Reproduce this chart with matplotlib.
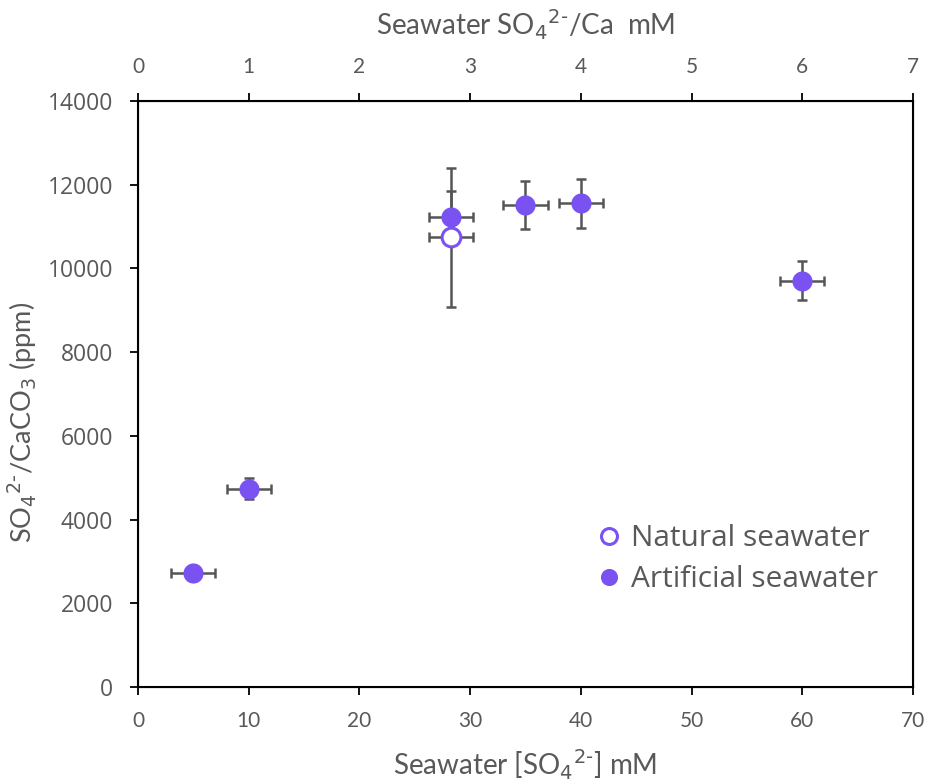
import numpy as np
import matplotlib.pyplot as plt

# data
art_x = [5, 10, 28.3, 35, 40, 60]
art_y = [2730, 4740, 11230, 11515, 11555, 9710]
art_xerr = [2, 2, 2, 2, 2, 2]
art_yerr = [80, 250, 620, 570, 585, 475]

nat_x = [28.3]
nat_y = [10750]
nat_xerr = [2]
nat_yerr = [1660]

PURPLE = '#7b52f2'
ERR = '#555555'
GREY = '#595959'

fig = plt.figure(figsize=(9.29, 7.83), dpi=100)
ax = fig.add_axes([0.1485, 0.1226, 0.8343, 0.7484])

ax.errorbar(nat_x, nat_y, xerr=nat_xerr, yerr=nat_yerr, fmt='none',
            ecolor=ERR, elinewidth=1.8, capsize=3.5, capthick=1.8, zorder=2)
ax.errorbar(art_x, art_y, xerr=art_xerr, yerr=art_yerr, fmt='none',
            ecolor=ERR, elinewidth=1.8, capsize=3.5, capthick=1.8, zorder=2)
ax.plot(nat_x, nat_y, 'o', ms=13.5, mfc='white', mec=PURPLE, mew=2.2,
        zorder=3, label='Natural seawater')
ax.plot(art_x, art_y, 'o', ms=14.5, mfc=PURPLE, mec=PURPLE, mew=0,
        zorder=4, label='Artificial seawater')

ax.set_xlim(0, 70)
ax.set_ylim(0, 14000)
ax.set_xticks(range(0, 71, 10))
ax.set_yticks(range(0, 14001, 2000))
for s in ax.spines.values():
    s.set_linewidth(1.5)
    s.set_color('black')
ax.tick_params(axis='both', direction='out', length=6, width=1.3, colors='black',
               labelcolor=GREY)
ax.tick_params(axis='x', labelsize=15, pad=11)
ax.tick_params(axis='y', labelsize=16.5, pad=12)
for t in ax.get_xticklabels():
    t.set_fontfamily('Lato')
for t in ax.get_yticklabels():
    t.set_fontfamily('Open Sans')

ax.set_xlabel(r'Seawater [SO$_4$$^{2\text{-}}$] mM', fontsize=20, color=GREY,
              family='Lato', labelpad=12)
ax.set_ylabel(r'SO$_4$$^{2\text{-}}$/CaCO$_3$ (ppm)', fontsize=19.5, color=GREY,
              family='Lato')
ax.yaxis.set_label_coords(-0.128, 0.452)

top = ax.twiny()
top.set_xlim(0, 7)
top.set_xticks(range(0, 8))
top.tick_params(axis='x', direction='out', length=6, width=1.3, colors='black',
                labelcolor=GREY, labelsize=15, pad=11)
for t in top.get_xticklabels():
    t.set_fontfamily('Lato')
top.set_xlabel(r'Seawater SO$_4$$^{2\text{-}}$/Ca  mM', fontsize=20, color=GREY,
               family='Lato', labelpad=16)

leg = ax.legend(loc='upper left', bbox_to_anchor=(0.55, 0.324), frameon=False,
                handletextpad=0.15, labelspacing=0.4, markerscale=0.85,
                handlelength=1.2, prop={'family': 'Open Sans', 'size': 21.5})
for t in leg.get_texts():
    t.set_color(GREY)

fig.savefig('out.png', dpi=100)
